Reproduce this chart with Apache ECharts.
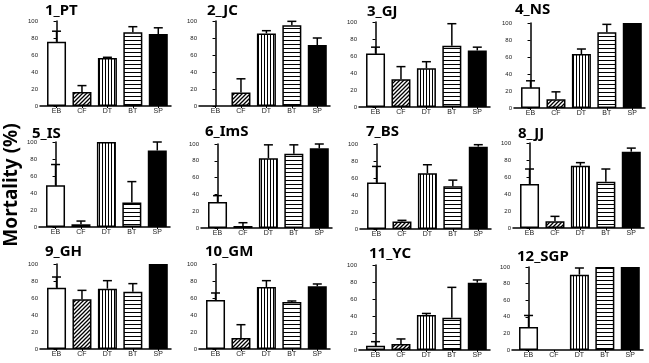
<!DOCTYPE html>
<html>
<head>
<meta charset="utf-8">
<script src="https://cdn.jsdelivr.net/npm/echarts@6/dist/echarts.min.js"></script>
<style>html,body{margin:0;padding:0;background:#fff}#c{width:649px;height:363px}</style>
</head>
<body>
<div id="c"></div>
<script>
// ---- data ----
const categories = ['EB', 'CF', 'DT', 'BT', 'SP'];
const panelNames = ['1_PT', '2_JC', '3_GJ', '4_NS', '5_IS', '6_ImS', '7_BS', '8_JJ', '9_GH', '10_GM', '11_YC', '12_SGP'];
const yTicks = [0, 20, 40, 60, 80, 100];

const PT_mean = [75.7, 16.5, 56.5, 86.7, 84.7];   const PT_err = [12.3, 7.5, 0.8, 6.6, 7.3];
const JC_mean = [0, 16, 85.4, 94.9, 71.7];        const JC_err = [0, 16, 3.2, 4.7, 8.3];
const GJ_mean = [63, 32.7, 45.5, 72, 66.5];       const GJ_err = [7.4, 14.8, 7.8, 26, 3.9];
const NS_mean = [24.3, 10.2, 63.5, 89, 100];      const NS_err = [7.7, 8.8, 5.9, 9.4, 0];
const IS_mean = [49, 3.2, 100, 28.9, 90];         const IS_err = [24.5, 3.8, 0, 24.5, 10];
const ImS_mean = [31, 2.4, 83, 88.5, 94.8];       const ImS_err = [7.5, 3.9, 16, 10.5, 5.2];
const BS_mean = [54.7, 8.7, 65.7, 50.4, 96.9];    const BS_err = [18.9, 1.5, 9.9, 7.1, 2.3];
const JJ_mean = [51.8, 7.8, 73.3, 54.5, 89.8];    const JJ_err = [17.6, 5.9, 3.6, 14.9, 4.2];
const GH_mean = [72.2, 58.4, 71, 67.5, 100];      const GH_err = [12.5, 10.6, 9.4, 9.4, 0];
const GM_mean = [57.6, 12.9, 73, 55.3, 73.7];     const GM_err = [8.3, 15.7, 7.4, 1.2, 2.8];
const YC_mean = [5.1, 7, 41.2, 38, 79.2];         const YC_err = [4.7, 6, 1.8, 35.7, 3.2];
const SGP_mean = [27.6, 0, 90.8, 100, 100];       const SGP_err = [14, 0, 8, 0, 0];

const allMeans = [PT_mean, JC_mean, GJ_mean, NS_mean, IS_mean, ImS_mean, BS_mean, JJ_mean, GH_mean, GM_mean, YC_mean, SGP_mean];
const allErrs = [PT_err, JC_err, GJ_err, NS_err, IS_err, ImS_err, BS_err, JJ_err, GH_err, GM_err, YC_err, SGP_err];

// ---- layout (positions, separate from data) ----
const gridLeft = [40, 199, 359, 514, 39, 201, 360, 513, 40, 199, 359, 512];
const gridTop = [21, 21, 22, 23, 142, 144, 144, 143, 264, 264, 265, 267];
const gridH = [85, 85, 85, 85, 85, 84, 85, 85, 85, 85, 85, 83];
const titleLeft = [45, 207, 367, 515, 32, 205, 366, 518, 45, 205, 369, 517];
const titleTop = [3, 3, 4, 2, 126, 124, 124, 126, 244, 244, 246, 249];

// ---- fill patterns ----
function pattern(kind) {
  const c = document.createElement('canvas');
  const ctx = c.getContext('2d');
  if (kind === 'diag') {
    const s = 4; c.width = s; c.height = s;
    ctx.fillStyle = '#fff'; ctx.fillRect(0, 0, s, s);
    ctx.strokeStyle = '#000'; ctx.lineWidth = 1.3;
    ctx.beginPath();
    ctx.moveTo(0, s); ctx.lineTo(s, 0);
    ctx.moveTo(-1, 1); ctx.lineTo(1, -1);
    ctx.moveTo(s - 1, s + 1); ctx.lineTo(s + 1, s - 1);
    ctx.stroke();
  } else if (kind === 'vert') {
    c.width = 3; c.height = 2;
    ctx.fillStyle = '#fff'; ctx.fillRect(0, 0, 3, 2);
    ctx.fillStyle = '#000'; ctx.fillRect(0, 0, 1, 2);
  } else {
    c.width = 2; c.height = 4;
    ctx.fillStyle = '#fff'; ctx.fillRect(0, 0, 2, 4);
    ctx.fillStyle = '#000'; ctx.fillRect(0, 0, 2, 1);
  }
  return { image: c, repeat: 'repeat' };
}
const fills = ['#ffffff', pattern('diag'), pattern('vert'), pattern('horiz'), '#000000'];

const chart = echarts.init(document.getElementById('c'), null, { renderer: 'canvas' });
const grids = [], xAxes = [], yAxes = [], series = [], titles = [];
const idx = categories.map((_, i) => i);

for (let p = 0; p < 12; p++) {
  grids.push({ left: gridLeft[p], top: gridTop[p], width: 131, height: gridH[p], containLabel: false });
  xAxes.push({
    type: 'value', gridIndex: p, min: -0.65, max: 4.5,
    axisLine: { show: true, onZero: false, lineStyle: { color: '#000', width: 1.5 } },
    axisTick: { show: true, customValues: idx, length: 2, lineStyle: { color: '#000', width: 1 } },
    axisLabel: { customValues: idx, formatter: v => categories[Math.round(v)], fontSize: 7, margin: 2, color: '#222', fontFamily: 'Liberation Sans' },
    splitLine: { show: false }
  });
  yAxes.push({
    type: 'value', gridIndex: p, min: 0, max: 100, interval: 20,
    axisLine: { show: true, lineStyle: { color: '#000', width: 1.5 } },
    axisTick: { show: true, length: 3, lineStyle: { color: '#000', width: 1 } },
    axisLabel: { fontSize: 6, margin: 2, color: '#222', fontFamily: 'Liberation Sans' },
    splitLine: { show: false }
  });
  const means = allMeans[p], errs = allErrs[p];
  series.push({
    type: 'bar', xAxisIndex: p, yAxisIndex: p, barWidth: 19, z: 2,
    data: means.map((v, i) => ({ value: [i, v], itemStyle: { color: fills[i], borderColor: '#000', borderWidth: v > 0 ? 1.5 : 0 } })),
    animation: false
  });
  series.push({
    type: 'custom', xAxisIndex: p, yAxisIndex: p, z: 5, animation: false,
    data: means.map((v, i) => [i, v, errs[i]]),
    encode: { x: 0, y: 1 },
    renderItem: function (params, api) {
      const x = api.value(0), m = api.value(1), e = api.value(2);
      if (!(e > 0)) return null;
      const a = api.coord([x, m]);
      const b = api.coord([x, m + e]);
      return {
        type: 'group',
        children: [
          { type: 'line', shape: { x1: a[0], y1: a[1], x2: b[0], y2: b[1] }, style: { stroke: '#000', lineWidth: 1.5 } },
          { type: 'line', shape: { x1: b[0] - 4.5, y1: b[1], x2: b[0] + 4.5, y2: b[1] }, style: { stroke: '#000', lineWidth: 1.5 } }
        ]
      };
    }
  });
  titles.push({
    text: panelNames[p], left: titleLeft[p], top: titleTop[p], padding: 0,
    textStyle: { fontSize: 15, fontWeight: 'bold', fontFamily: 'Noto Sans', color: '#000' }
  });
}

chart.setOption({
  animation: false,
  title: titles,
  grid: grids,
  xAxis: xAxes,
  yAxis: yAxes,
  series: series,
  graphic: [{
    type: 'text', x: 12, y: 185, rotation: Math.PI / 2,
    style: { text: 'Mortality (%)', font: 'bold 19px "Noto Sans"', fill: '#000', textAlign: 'center', textVerticalAlign: 'middle' }
  }]
});
</script>
</body>
</html>
